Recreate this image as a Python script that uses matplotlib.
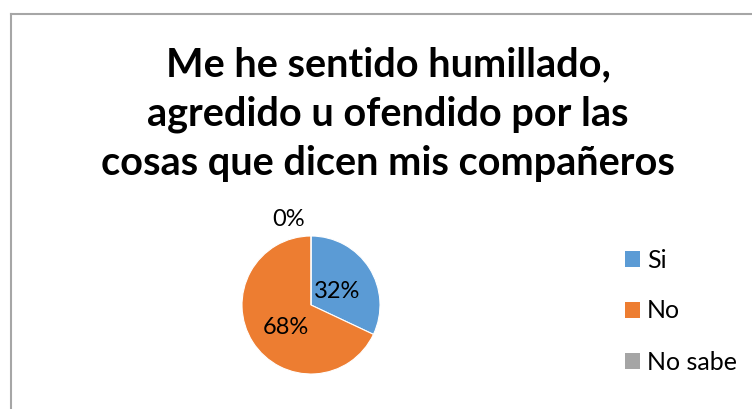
import matplotlib
matplotlib.use("Agg")
import matplotlib.pyplot as plt
from matplotlib.patches import Patch
from matplotlib.lines import Line2D

categories = ["Si", "No", "No sabe"]
values = [32, 68, 0]
colors = ["#5B9BD5", "#ED7D31", "#A5A5A5"]
title = "Me he sentido humillado,\nagredido u ofendido por las\ncosas que dicen mis compañeros"

plt.rcParams['font.family'] = ['Lato', 'DejaVu Sans']

W, H = 752, 409
fig = plt.figure(figsize=(W / 100, H / 100), dpi=100)

# frame (top and left visible)
fig.add_artist(Line2D([11 / W, 11 / W], [0, 1 - 14 / H], color="#A6A6A6", lw=1.5))
fig.add_artist(Line2D([11 / W, 1], [1 - 14 / H, 1 - 14 / H], color="#A6A6A6", lw=1.5))

fig.text(388 / W, 1 - 114 / H, title, ha="center", va="center",
         fontsize=28.5, fontweight="bold", linespacing=1.4)

cx, cy, r = 311, 305, 69
ax = fig.add_axes([(cx - 72) / W, (H - cy - 72) / H, 144 / W, 144 / H])
wedges, texts, autotexts = ax.pie(values, colors=colors, startangle=90, counterclock=False,
                                  autopct=lambda p: f"{p:.0f}%", radius=1,
                                  wedgeprops=dict(edgecolor="white", linewidth=0.8),
                                  textprops=dict(fontsize=17, color="black"))
ax.set_xlim(-72 / r, 72 / r)
ax.set_ylim(-72 / r, 72 / r)
ax.set_aspect("equal")
ax.axis("off")
label_pos = [(0.38, 0.19), (-0.36, -0.32), (-0.33, 1.24)]
for t, p in zip(autotexts, label_pos):
    t.set_position(p)
    t.set_ha("center")
    t.set_va("center")

handles = [Patch(facecolor=c, edgecolor="none") for c in colors]
fig.legend(handles, categories, loc="upper left", bbox_to_anchor=(612 / W, 1 - 236 / H),
           frameon=False, fontsize=18, handlelength=0.6, handleheight=0.6,
           handletextpad=0.3, labelspacing=1.12, borderpad=0)

fig.savefig("out.png", dpi=100)
